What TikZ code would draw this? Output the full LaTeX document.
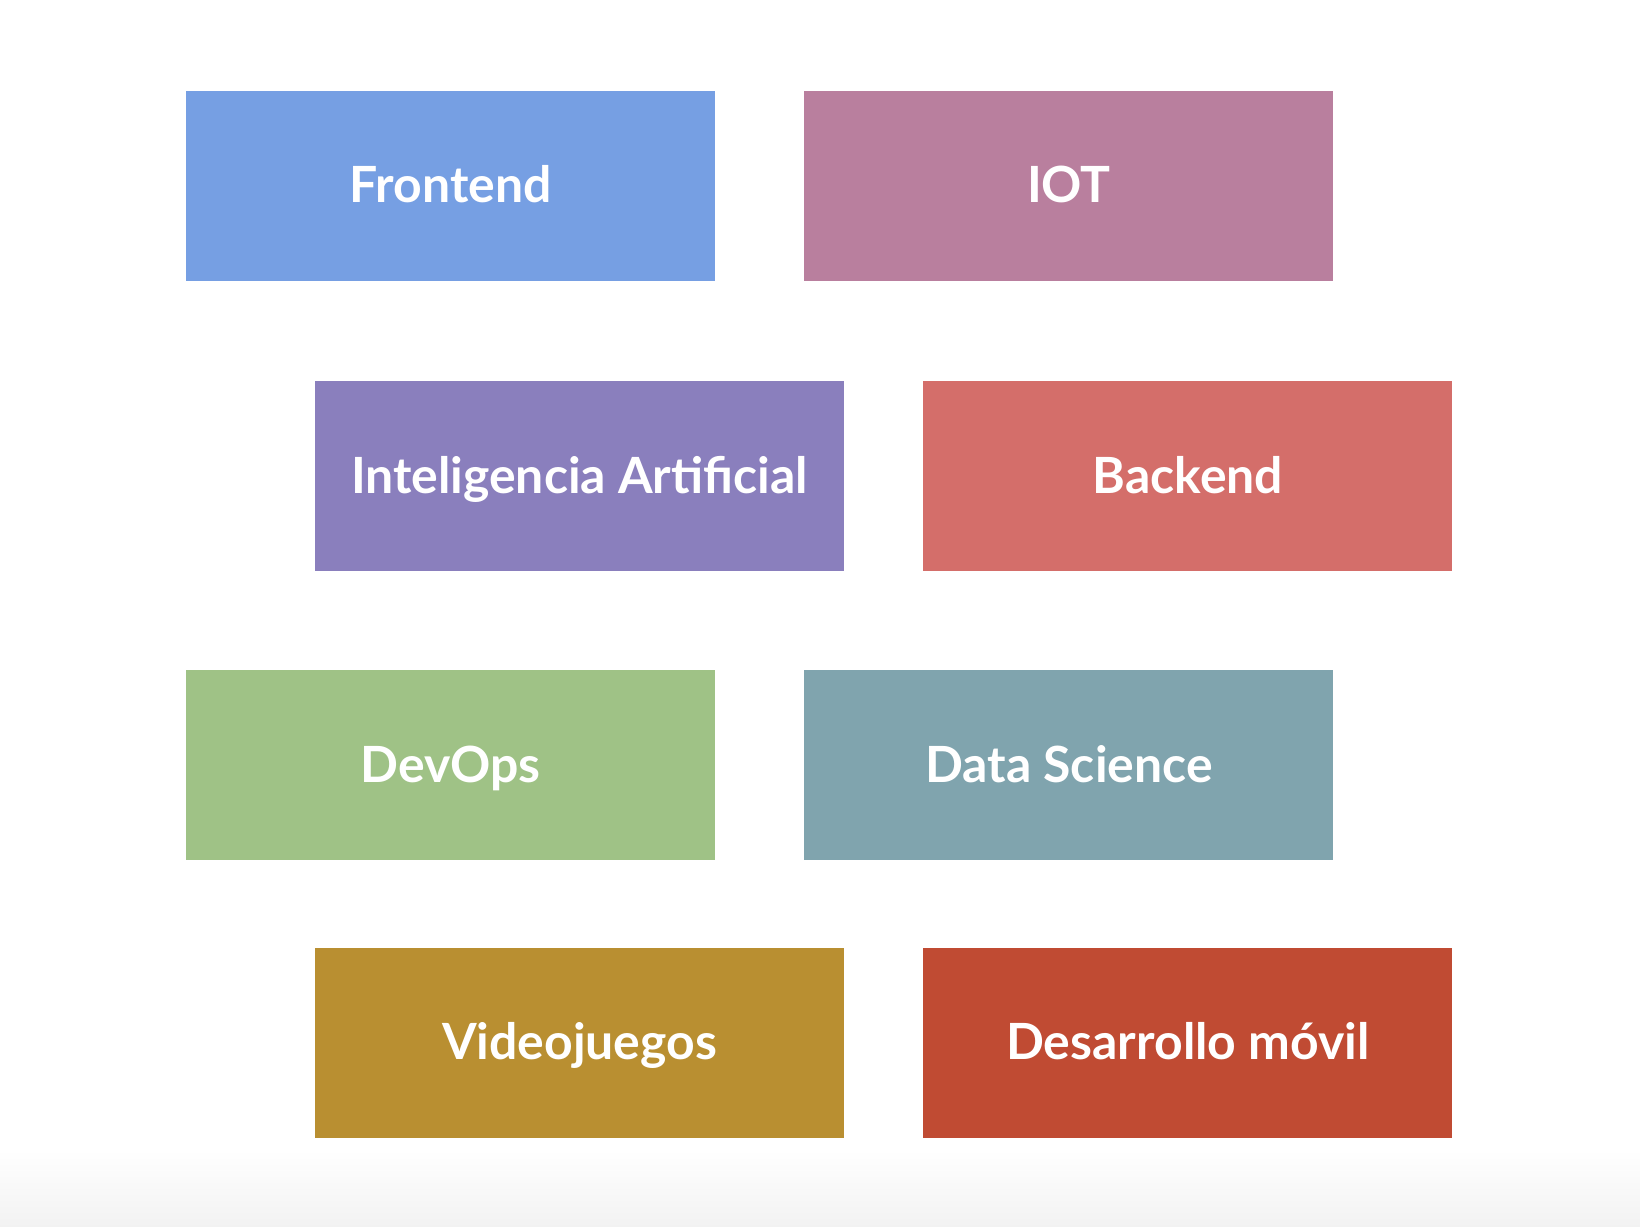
\documentclass[tikz,border=0pt]{standalone}
\usepackage{fontspec}
\setmainfont{Lato}
\usepackage{tikz}
\usetikzlibrary{positioning}
\definecolor{frontblue}{HTML}{769FE3}
\definecolor{iotmauve}{HTML}{B97F9E}
\definecolor{aipurple}{HTML}{8A7FBD}
\definecolor{backred}{HTML}{D46E6A}
\definecolor{devgreen}{HTML}{9FC286}
\definecolor{datateal}{HTML}{80A4AE}
\definecolor{gameochre}{HTML}{B98F31}
\definecolor{mobilered}{HTML}{C04B33}

\begin{document}
\begin{tikzpicture}[
    node distance=0.88cm,
    area/.style={
        rectangle, inner sep=0pt,
        minimum width=5.29cm, minimum height=1.9cm,
        text height=0.98em, text depth=0pt,
        text=white, font=\fontsize{14.2}{17}\selectfont\bfseries
    }
]
    \useasboundingbox (0,0) rectangle (16.4,-12.26);
    \shade[top color=white, bottom color=black!5] (0,-11.5) rectangle (16.4,-12.26);

    %% Row 1
    \node[area, fill=frontblue] (front) at (4.505,-1.855) {Frontend};
    \node[area, fill=iotmauve, right=of front] (iot) {IOT};

    %% Row 2
    \node[area, fill=aipurple] (ai) at (5.795,-4.76) {Inteligencia Artificial};
    \node[area, fill=backred, right=0.78cm of ai] (back) {Backend};

    %% Row 3
    \node[area, fill=devgreen] (devops) at (4.505,-7.65) {DevOps};
    \node[area, fill=datateal, right=of devops] (data) {Data Science};

    %% Row 4
    \node[area, fill=gameochre] (games) at (5.795,-10.425) {Videojuegos};
    \node[area, fill=mobilered, right=0.78cm of games] (mobile) {Desarrollo móvil};
\end{tikzpicture}
\end{document}
